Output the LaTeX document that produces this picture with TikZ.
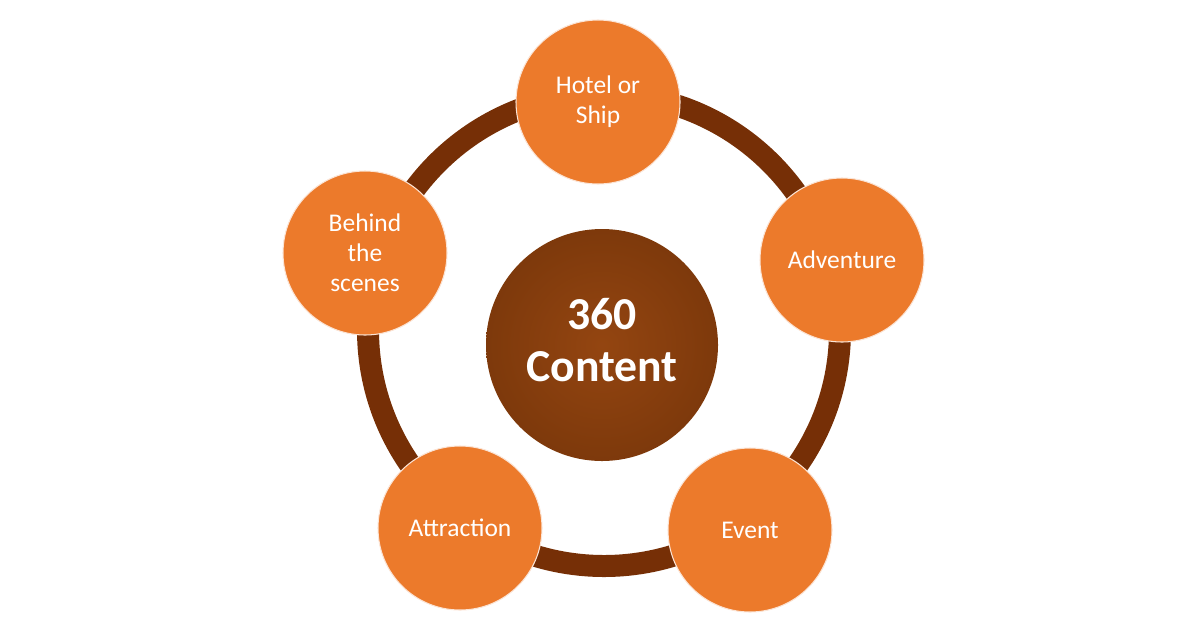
\documentclass[tikz,border=0pt]{standalone}
\usepackage{fontspec}
\setmainfont{Carlito}

\definecolor{spoke}{HTML}{EC7A2B}
\definecolor{hub}{HTML}{843C0C}
\definecolor{rim}{HTML}{762F06}

\begin{document}
\begin{tikzpicture}[
        topic/.style={circle, fill=spoke, draw=white!80!spoke, line width=0.6pt,
            minimum size=3.28cm, inner sep=0pt, text=white, align=center,
            font=\fontsize{14.5}{17}\selectfont},
        core/.style={circle, shading=radial, inner color=hub!85!spoke, outer color=hub!95!black,
            minimum size=4.64cm, inner sep=0pt, text=white, align=center,
            font=\bfseries\fontsize{26}{30}\selectfont}
    ]
            \useasboundingbox (0, 0) rectangle (24, 12.6);

            \coordinate (loop) at (12.08, 6.0);
            \draw[rim, line width=0.44cm] (loop) circle (4.72);

            \node[core] at (12.04, 5.7)     (content)   {};
            \node[text=white, align=center, font=\bfseries\fontsize{26}{30}\selectfont]
                at (12.04, 5.8)             (label)     {360\\Content};

            \node[topic] at (11.96, 10.56)  (hotel)     {Hotel or\\Ship};
            \node[topic] at (16.84, 7.4)    (adventure) {Adventure};
            \node[topic] at (15.0, 2.0)     (event)     {Event};
            \node[topic] at (9.2, 2.04)     (attraction){Attraction};
            \node[topic] at (7.3, 7.54)     (behind)    {Behind\\the\\scenes};
        \end{tikzpicture}
\end{document}
